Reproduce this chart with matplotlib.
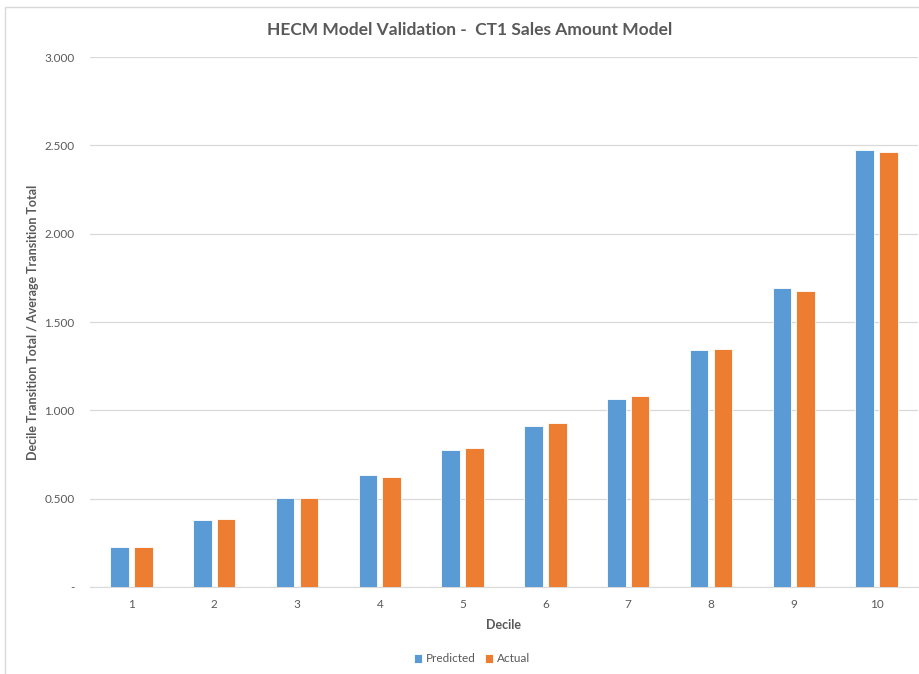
import numpy as np
import matplotlib.pyplot as plt
from matplotlib.patches import Rectangle

plt.rcParams['font.family'] = ['Lato', 'DejaVu Sans']

deciles = ['1', '2', '3', '4', '5', '6', '7', '8', '9', '10']
predicted = [0.226, 0.381, 0.501, 0.636, 0.777, 0.913, 1.066, 1.342, 1.691, 2.475]
actual = [0.225, 0.386, 0.501, 0.625, 0.786, 0.928, 1.080, 1.347, 1.674, 2.464]
yticks = [0, 0.5, 1.0, 1.5, 2.0, 2.5, 3.0]

blue = '#5B9BD5'
orange = '#ED7D31'
grey = '#595959'

fig = plt.figure(figsize=(9.2, 6.74), dpi=100)
# chart frame
fig.patches.append(Rectangle((5 / 920, -0.1), 1.2, 1.1 - 7 / 674, transform=fig.transFigure,
                             fill=False, edgecolor='#D9D9D9', linewidth=1))

ax = fig.add_axes([90 / 920, 1 - 587 / 674, 828 / 920, 530 / 674])
x = np.arange(1, len(deciles) + 1)
w = 0.225
ax.bar(x - 0.143, predicted, w, color=blue, edgecolor='white', linewidth=0.6, label='Predicted', zorder=3)
ax.bar(x + 0.143, actual, w, color=orange, edgecolor='white', linewidth=0.6, label='Actual', zorder=3)

ax.set_xlim(0.5, 10.5)
ax.set_ylim(0, 3.0)
ax.set_yticks(yticks)
ax.set_yticklabels(['-' if v == 0 else f'{v:.3f}' for v in yticks])
ax.set_xticks(x)
ax.set_xticklabels(deciles)
ax.tick_params(length=0, labelsize=8.5, labelcolor=grey)
ax.tick_params(axis='y', pad=11)
ax.tick_params(axis='x', pad=9)
ax.grid(axis='y', color='#D9D9D9', linewidth=0.9, zorder=0)
for s in ['top', 'right', 'left']:
    ax.spines[s].set_visible(False)
ax.spines['bottom'].set_color('#D9D9D9')

ax.set_xlabel('Decile', fontsize=9, fontweight='bold', color=grey, labelpad=6)
ax.set_ylabel('Decile Transition Total / Average Transition Total', fontsize=9,
              fontweight='bold', color=grey, labelpad=4)

fig.text(470 / 920, 1 - 30 / 674, 'HECM Model Validation -  CT1 Sales Amount Model',
         ha='center', va='center', fontsize=12.5, fontweight='bold', color=grey)

fig.legend(loc='center', bbox_to_anchor=(472 / 920, 1 - 659 / 674), ncol=2, frameon=False,
           fontsize=8.5, handlelength=0.7, handleheight=0.7, handletextpad=0.3,
           columnspacing=0.8, labelcolor=grey)

fig.savefig('out.png', dpi=100, facecolor='white')
